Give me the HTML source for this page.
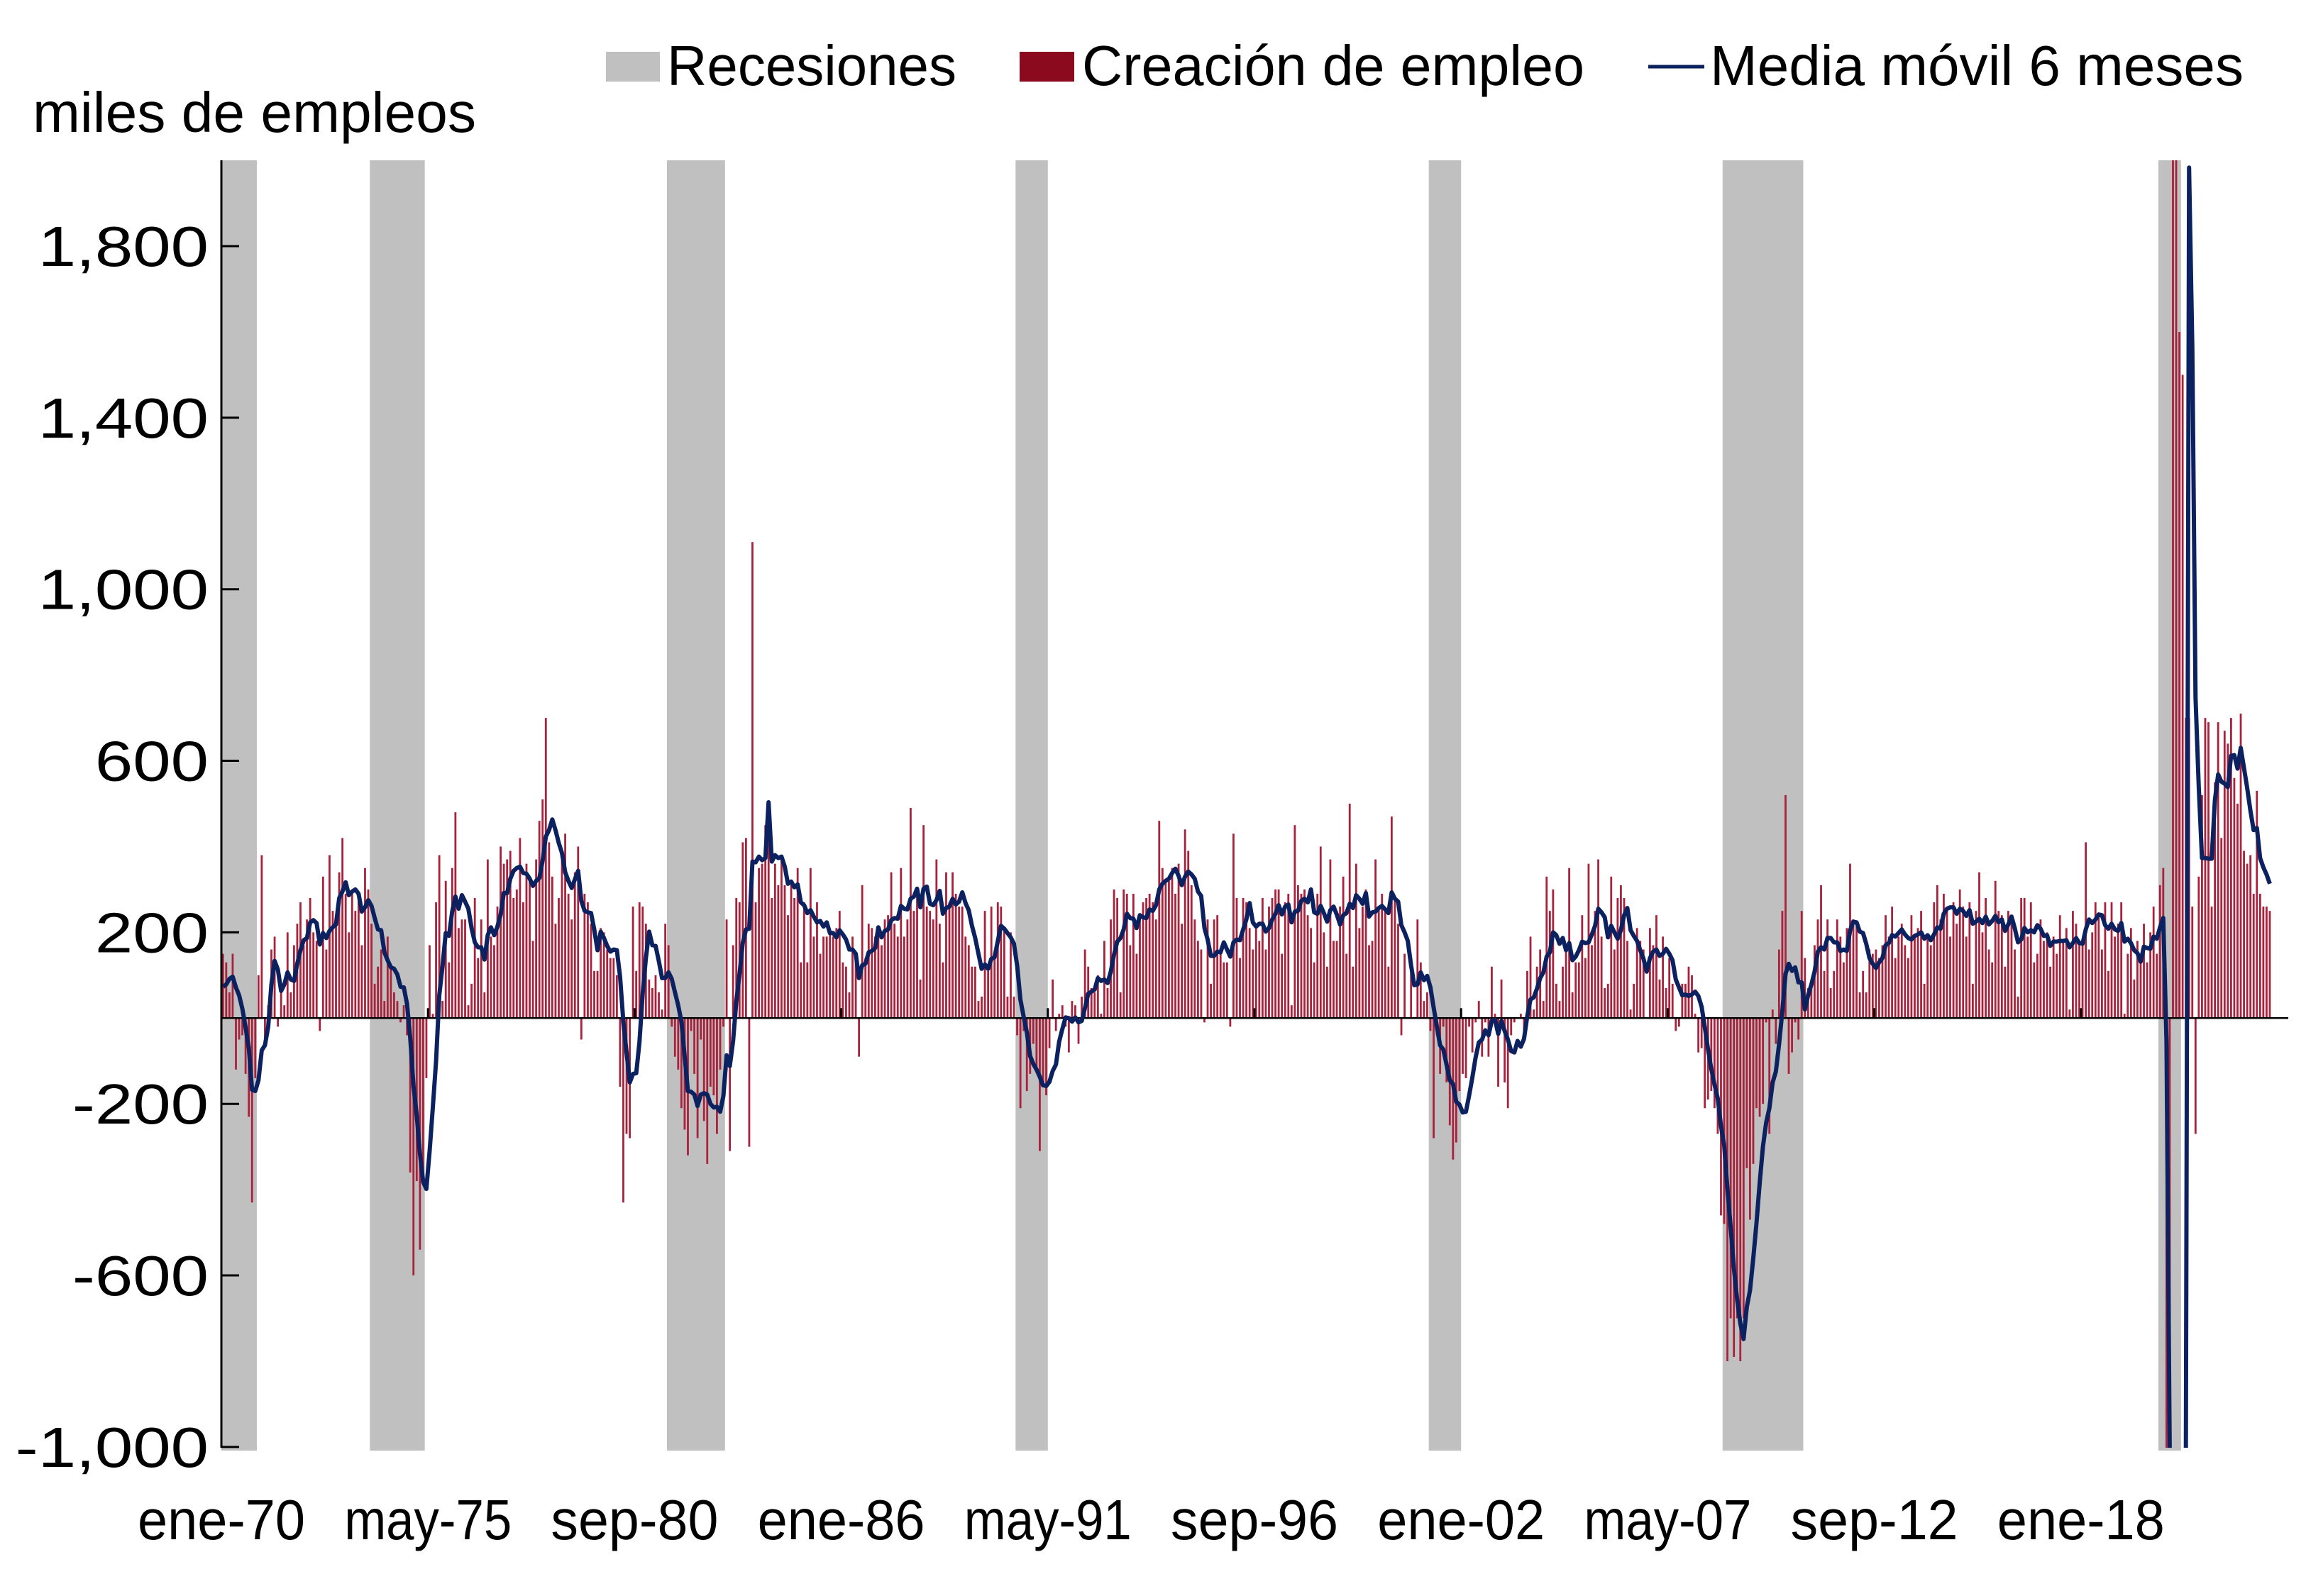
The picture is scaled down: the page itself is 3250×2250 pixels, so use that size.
<!DOCTYPE html>
<html><head><meta charset="utf-8"><style>
html,body{margin:0;padding:0;background:#fff;width:3250px;height:2250px;overflow:hidden;}
svg{display:block;font-family:"Liberation Sans",Arial,sans-serif;}
</style></head><body>
<svg id="chart" xmlns="http://www.w3.org/2000/svg" width="3250" height="2250" viewBox="0 0 3250 2250">
<defs><clipPath id="plotClip"><rect x="312" y="226" width="2918" height="1815"/></clipPath></defs>
<rect width="3250" height="2250" fill="#fff"/>
<g id="recessions"></g>
<g id="bars" clip-path="url(#plotClip)"></g>
<line x1="312" y1="1435.3" x2="3225" y2="1435.3" stroke="#000" stroke-width="2.5"/>
<g id="xticks"></g>
<path id="ma" clip-path="url(#plotClip)" fill="none" stroke="#0c215f" stroke-width="6" stroke-linejoin="round"/>
<line x1="312" y1="226" x2="312" y2="2041" stroke="#000" stroke-width="3"/>
<g id="yaxis"></g>
<g id="xlabels"></g>
<text x="46" y="186" font-size="80" textLength="625" lengthAdjust="spacingAndGlyphs">miles de empleos</text>
<g>
 <g>
  <rect x="854" y="73" width="76" height="42" fill="#c0c0c0"/>
  <text x="940" y="120" font-size="80" textLength="408" lengthAdjust="spacingAndGlyphs">Recesiones</text>
 </g>
 <g>
  <rect x="1437" y="73" width="77" height="42" fill="#8b0a1e"/>
  <text x="1525" y="120" font-size="80" textLength="708" lengthAdjust="spacingAndGlyphs">Creación de empleo</text>
 </g>
 <g>
  <line x1="2323" y1="94" x2="2402" y2="94" stroke="#0c215f" stroke-width="5"/>
  <text x="2410" y="120" font-size="80" textLength="752" lengthAdjust="spacingAndGlyphs">Media móvil 6 meses</text>
 </g>
</g>
</svg>
<script>
// Monthly payroll change (thousands), Jan 1970 - Nov 2022
const jobs = [
150,130,60,150,-120,-50,-40,-130,-230,-430,-140,100,
380,-60,30,160,190,-20,80,30,200,60,170,220,
270,170,230,280,200,180,-30,330,160,380,250,220,
340,420,290,200,300,250,280,170,350,300,220,80,
120,160,40,190,120,60,40,-10,30,-40,-360,-600,
-380,-540,-370,-140,170,10,270,380,40,320,130,350,
480,210,230,230,30,80,280,140,230,60,370,190,
170,260,400,360,370,390,280,300,420,270,360,320,
180,370,460,510,700,410,330,220,280,370,430,290,
230,340,400,-50,290,270,220,110,110,210,200,160,
140,140,100,-160,-430,-270,-280,260,110,270,260,220,
90,70,100,60,20,220,170,-20,-90,-120,-210,-260,
-320,-30,-130,-280,-50,-240,-340,-160,-180,-270,-120,-20,
230,-310,170,280,270,410,420,-300,1110,270,350,360,
450,480,280,360,310,380,310,240,310,280,350,130,
270,130,350,190,270,150,190,190,200,190,210,250,
130,120,60,190,150,-90,310,140,220,210,190,200,
170,230,240,340,220,190,350,190,230,490,250,300,
90,450,260,250,230,370,220,130,340,270,340,290,
260,260,190,170,120,120,40,50,250,110,260,140,
270,260,210,50,200,50,-40,-210,-30,-170,-130,-60,
-120,-310,-150,-180,-70,90,-30,10,30,-20,-80,40,
30,-60,50,160,120,70,60,100,10,180,70,230,
300,280,60,300,290,170,290,150,240,270,280,290,
270,230,460,350,320,320,350,290,360,220,440,390,
310,230,180,160,-10,230,80,230,240,150,130,130,
-20,430,280,140,280,270,210,160,220,180,280,160,
260,280,300,300,150,270,290,30,450,310,290,300,
240,210,130,290,400,200,120,370,180,180,260,330,
150,500,120,360,210,260,300,170,180,370,260,290,
250,120,470,280,220,-40,150,0,130,0,230,130,
40,60,-30,-280,-40,-130,-20,-150,-250,-330,-290,-170,
-130,-140,-20,-80,-10,40,-90,-10,-90,120,10,-160,
90,-150,-210,-40,-10,0,10,-40,110,190,20,120,
160,40,330,250,300,80,40,120,160,350,60,130,
130,240,140,360,170,250,370,190,70,80,330,160,
280,310,280,180,20,80,210,180,160,0,210,170,
240,90,190,70,140,80,-30,-20,80,80,120,100,
10,-80,-70,-210,-190,-170,-210,-270,-460,-480,-800,-700,
-790,-700,-800,-700,-350,-470,-340,-210,-230,-200,-10,-270,
20,-60,160,250,520,-130,-80,-10,-50,250,140,70,
70,170,230,310,110,230,70,110,230,190,130,210,
360,230,220,60,110,60,160,150,160,140,170,240,
190,260,140,190,220,170,140,240,190,210,250,80,
190,170,270,310,230,290,260,190,270,220,300,260,
190,270,80,250,340,200,280,160,130,320,250,240,
120,250,240,160,50,280,280,190,270,130,150,230,
180,200,120,190,150,240,180,210,20,250,220,170,
170,410,160,200,270,240,160,270,110,270,190,220,
270,10,150,210,90,180,150,220,130,200,260,150,
310,350,-1600,-20500,2800,4600,1600,1500,700,700,260,-270,
330,520,700,690,260,550,690,420,670,640,700,560,
500,710,390,360,380,290,530,290,260,260,250
];
// Aug-Dec 1969 values used only to seed the 6-month moving average
const prior1969 = [100,-20,120,30,60];
const recStart = ["1970-01","1973-11","1981-07","1990-07","2001-03","2008-10","2020-01"];
const recEnd   = ["1970-11","1975-03","1982-12","1991-04","2001-12","2010-10","2020-07"];
const xTickLabels = ["ene-70","may-75","sep-80","ene-86","may-91","sep-96","ene-02","may-07","sep-12","ene-18"];
const yTickValues = [1800,1400,1000,600,200,-200,-600,-1000];

const NS="http://www.w3.org/2000/svg";
const X0=312, PXM=4.55, Y0=1435.3, PXV=0.6046, YTOP=226, YBOT=2040;
function xEdge(i){return X0+i*PXM;}
function xMid(i){return X0+(i+0.5)*PXM;}
function yv(v){return Y0-v*PXV;}
function yc(v){return Math.min(YBOT+4,Math.max(YTOP-4,yv(v)));}
function mIdx(s){const p=s.split("-");return (+p[0]-1970)*12+(+p[1]-1);}
function fmt(v){const a=Math.abs(v).toString().replace(/\B(?=(\d{3})+(?!\d))/g,",");return (v<0?"-":"")+a;}
function mk(tag,attrs){const e=document.createElementNS(NS,tag);for(const k in attrs)e.setAttribute(k,attrs[k]);return e;}
function labelWidth(s){let w=0;for(const c of s){w+= c===","?0.278:(c==="-"?0.333:0.556);}return w*80*1.2;}

const gRec=document.getElementById("recessions");
for(let r=0;r<recStart.length;r++){
  const a=xEdge(mIdx(recStart[r])), b=xEdge(mIdx(recEnd[r])+1);
  const el=mk("rect",{x:a,y:YTOP,width:b-a,height:YBOT-YTOP+5,fill:"#c0c0c0"});
  
  
  gRec.appendChild(el);
}
const gBars=document.getElementById("bars");
for(let i=0;i<jobs.length;i++){
  const v=jobs[i], y1=yc(Math.max(v,0)), y2=yc(Math.min(v,0));
  const el=mk("rect",{x:xMid(i)-1.4,y:y1,width:2.8,height:Math.max(y2-y1,0.5),fill:"#a8223c"});
  
  
  gBars.appendChild(el);
}
const full=prior1969.concat(jobs);
let d="";
for(let i=0;i<jobs.length;i++){
  const k=i+prior1969.length;let s=0;for(let j=k-5;j<=k;j++)s+=full[j];
  const m=s/6;
  d+=(i?"L":"M")+xMid(i).toFixed(1)+" "+yc(m).toFixed(1);
}
document.getElementById("ma").setAttribute("d",d);

const gXt=document.getElementById("xticks"), gXl=document.getElementById("xlabels");
for(let t=0;t<xTickLabels.length;t++){
  const x=xEdge(t*64);
  const tk=mk("line",{x1:x,y1:Y0,x2:x,y2:Y0-14,stroke:"#000","stroke-width":3});
  
  
  gXt.appendChild(tk);
  const lb=mk("text",{x:x,y:2170,"font-size":80,"text-anchor":"middle",textLength:236,lengthAdjust:"spacingAndGlyphs"});
  lb.textContent=xTickLabels[t];
  
  
  gXl.appendChild(lb);
}
const gY=document.getElementById("yaxis");
for(const v of yTickValues){
  const y=yv(v);
  const tk=mk("line",{x1:312,y1:y,x2:337,y2:y,stroke:"#000","stroke-width":3});
  
  
  gY.appendChild(tk);
  const txt=fmt(v);
  const lb=mk("text",{x:294,y:y+28,"font-size":80,"text-anchor":"end",textLength:labelWidth(txt).toFixed(1),lengthAdjust:"spacingAndGlyphs"});
  lb.textContent=txt;
  
  
  gY.appendChild(lb);
}
</script>
</body></html>
